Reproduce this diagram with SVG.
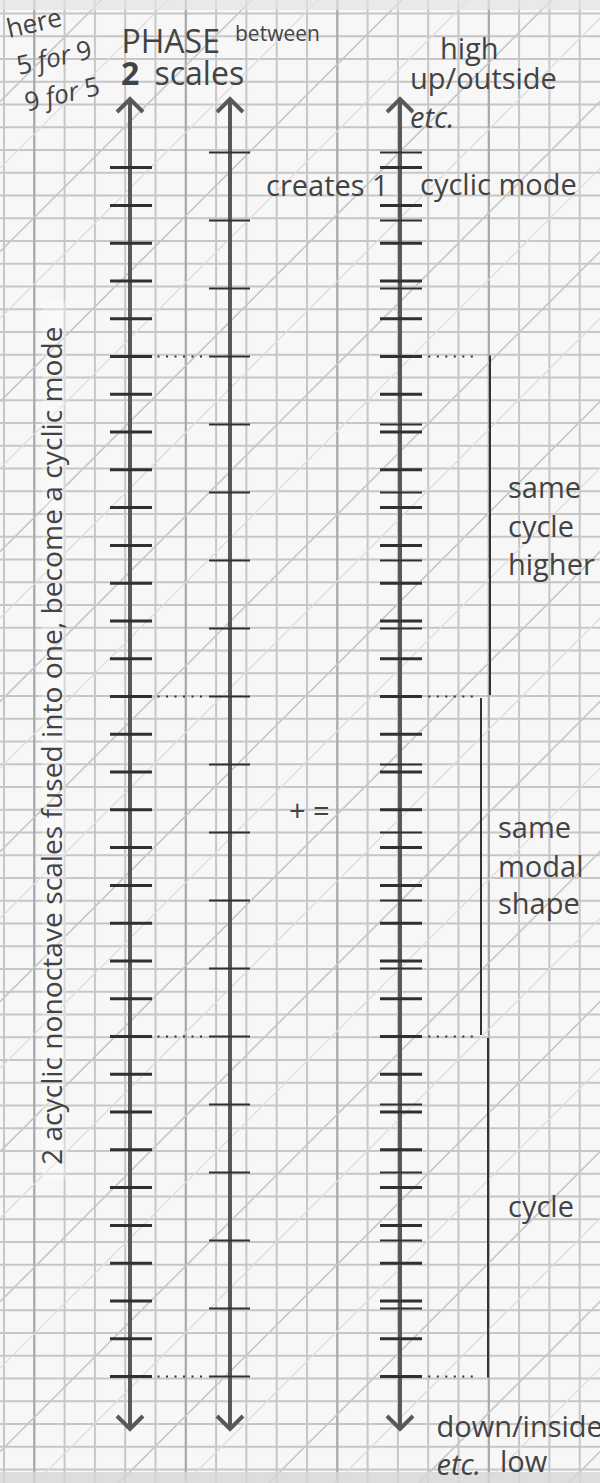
<svg xmlns="http://www.w3.org/2000/svg" width="600" height="1483" viewBox="0 0 600 1483">
<style>
.t{font-family:"Open Sans","Noto Sans",sans-serif;font-size:29px;fill:#434343}
.it{font-style:italic}
.s32{font-size:32px}
.s26{font-size:26px}
.s21{font-size:21px}
.s28{font-size:28.2px}
.b{font-weight:bold}
.axis{stroke:#585858;stroke-width:4;fill:none}
.head{stroke:#585858;stroke-width:4;fill:none;stroke-linejoin:miter;stroke-linecap:butt}
.tk1{stroke:#303030;stroke-width:3;fill:none}
.tk2{stroke:#303030;stroke-width:2.2;fill:none}
.dot{stroke:#333;stroke-width:2;stroke-dasharray:2 6.5;fill:none}
.br{stroke:#333;stroke-width:2;fill:none}
.gridd{stroke:#a8a8a8;stroke-width:2;fill:none}
.diag{stroke:#c6c6c6;stroke-width:1.6;fill:none}
.diag2{stroke:#dcdcdc;stroke-width:1.3;fill:none}
</style>
<defs>
<pattern id="gp" patternUnits="userSpaceOnUse" x="3" y="149" width="30.3" height="22.75">
<rect x="0" y="0" width="2" height="22.75" fill="#c6c6c6"/>
<rect x="0" y="0" width="30.3" height="2" fill="#c6c6c6"/>
</pattern>
</defs>
<g id="background">
<rect width="600" height="1483" fill="#f7f7f7"/>
<rect width="600" height="1483" fill="url(#gp)"/>
<path class="gridd" d="M34.3 0V1483M185.8 0V1483M337.3 0V1483M488.8 0V1483"/>
<path class="diag" d="M0 101.7L101.7 0M0 251.7L251.7 0M0 401.7L401.7 0M0 551.7L551.7 0M0 701.7L701.7 0M0 851.7L851.7 0M0 1001.7L1001.7 0M0 1151.7L1151.7 0M0 1301.7L1301.7 0M0 1451.7L1451.7 0M0 1601.7L1601.7 0M0 1751.7L1751.7 0M0 1901.7L1901.7 0M0 2051.7L2051.7 0"/>
<path class="diag2" d="M0 168.3L168.3 0M0 318.3L318.3 0M0 468.3L468.3 0M0 618.3L618.3 0M0 768.3L768.3 0M0 918.3L918.3 0M0 1068.3L1068.3 0M0 1218.3L1218.3 0M0 1368.3L1368.3 0M0 1518.3L1518.3 0M0 1668.3L1668.3 0M0 1818.3L1818.3 0M0 1968.3L1968.3 0"/>
<rect x="0" y="0" width="600" height="10" fill="#e2e2e2" opacity="0.7"/>
<rect x="0" y="1472" width="600" height="11" fill="#d6d6d6" opacity="0.8"/>
<rect x="42" y="300" width="24" height="880" fill="#ffffff" opacity="0.3"/>
</g>
<g id="axis1">
<path class="axis" d="M130 98V1430"/>
<path class="head" d="M117 112L130 99L143 112M117 1416L130 1429L143 1416"/>
<path class="tk1" d="M110 167.61H152M110 205.39H152M110 243.17H152M110 280.94H152M110 318.72H152M110 356.5H152M110 394.28H152M110 432.06H152M110 469.83H152M110 507.61H152M110 545.39H152M110 583.17H152M110 620.94H152M110 658.72H152M110 696.5H152M110 734.28H152M110 772.06H152M110 809.83H152M110 847.61H152M110 885.39H152M110 923.17H152M110 960.94H152M110 998.72H152M110 1036.5H152M110 1074.28H152M110 1112.06H152M110 1149.83H152M110 1187.61H152M110 1225.39H152M110 1263.17H152M110 1300.94H152M110 1338.72H152M110 1376.5H152"/>
</g>
<g id="axis2">
<path class="axis" d="M230 98V1430"/>
<path class="head" d="M217 112L230 99L243 112M217 1416L230 1429L243 1416"/>
<path class="tk2" d="M209 152.5H250M209 220.5H250M209 288.5H250M209 356.5H250M209 424.5H250M209 492.5H250M209 560.5H250M209 628.5H250M209 696.5H250M209 764.5H250M209 832.5H250M209 900.5H250M209 968.5H250M209 1036.5H250M209 1104.5H250M209 1172.5H250M209 1240.5H250M209 1308.5H250M209 1376.5H250"/>
</g>
<g id="axis3">
<path class="axis" d="M400 98V1430"/>
<path class="head" d="M387 112L400 99L413 112M387 1416L400 1429L413 1416"/>
<path class="tk1" d="M380 167.61H422M380 205.39H422M380 243.17H422M380 280.94H422M380 318.72H422M380 356.5H422M380 394.28H422M380 432.06H422M380 469.83H422M380 507.61H422M380 545.39H422M380 583.17H422M380 620.94H422M380 658.72H422M380 696.5H422M380 734.28H422M380 772.06H422M380 809.83H422M380 847.61H422M380 885.39H422M380 923.17H422M380 960.94H422M380 998.72H422M380 1036.5H422M380 1074.28H422M380 1112.06H422M380 1149.83H422M380 1187.61H422M380 1225.39H422M380 1263.17H422M380 1300.94H422M380 1338.72H422M380 1376.5H422"/>
<path class="tk2" d="M380 152.5H422M380 220.5H422M380 288.5H422M380 356.5H422M380 424.5H422M380 492.5H422M380 560.5H422M380 628.5H422M380 696.5H422M380 764.5H422M380 832.5H422M380 900.5H422M380 968.5H422M380 1036.5H422M380 1104.5H422M380 1172.5H422M380 1240.5H422M380 1308.5H422M380 1376.5H422"/>
</g>
<g id="connectors">
<path class="dot" d="M157.5 356.5H203M157.5 696.5H203M157.5 1036.5H203M157.5 1376.5H203"/>
<path class="dot" d="M428.3 356.5H474M428.3 696.5H474M428.3 1036.5H474M428.3 1376.5H474"/>
<path class="br" d="M490 355.5V695"/>
<path class="br" d="M481 698V1035"/>
<path class="br" d="M488 1038V1377.5"/>
</g>
<g id="title">
<text class="t s26" transform="translate(9 38) rotate(-13)">here</text>
<text class="t s26" transform="translate(19 75) rotate(-13)">5 <tspan class="it">for</tspan> 9</text>
<text class="t s26" transform="translate(27 111.5) rotate(-13)">9 <tspan class="it">for</tspan> 5</text>
<text class="t s32" x="121.5" y="53.3">PHASE</text>
<text class="t s21" x="235" y="40.7">between</text>
<text class="t s32 b" x="121" y="85">2</text>
<text class="t s32" x="154.5" y="85">scales</text>
</g>
<g id="side-label">
<text class="t s28" transform="translate(62 1165) rotate(-90)">2 acyclic nonoctave scales fused into one, become a cyclic mode</text>
</g>
<g id="top-labels">
<text class="t" x="440" y="59.3">high</text>
<text class="t" x="410" y="89.3">up/outside</text>
<text class="t it" x="410" y="128.3">etc.</text>
<text class="t" x="266" y="196">creates 1</text>
<text class="t" x="420" y="195">cyclic mode</text>
</g>
<g id="label-higher">
<text class="t" x="508" y="498.3">same</text>
<text class="t" x="508" y="536.5">cycle</text>
<text class="t" x="508" y="575">higher</text>
</g>
<g id="label-modal">
<text class="t" x="498" y="838.3">same</text>
<text class="t" x="498" y="876.5">modal</text>
<text class="t" x="498" y="914">shape</text>
</g>
<g id="label-cycle">
<text class="t" x="508" y="1217">cycle</text>
</g>
<g id="plus-equals">
<text class="t" x="289" y="821">+ =</text>
</g>
<g id="bottom-labels">
<text class="t" x="436.5" y="1437">down/inside</text>
<text class="t it" x="436.5" y="1475">etc.</text>
<text class="t" x="500" y="1472">low</text>
</g>
</svg>
